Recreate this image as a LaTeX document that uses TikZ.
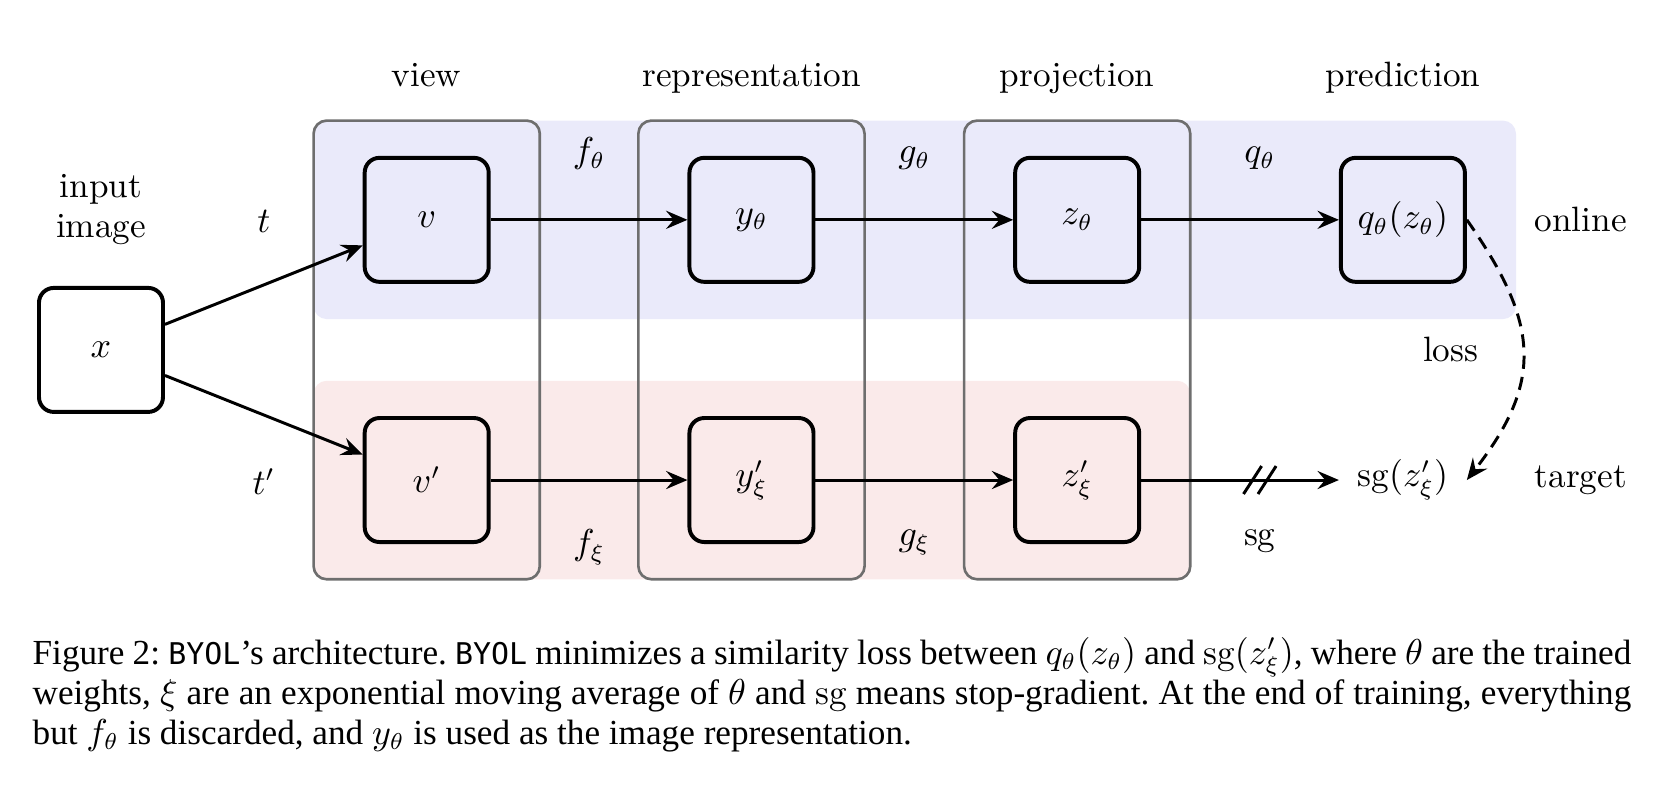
\documentclass[tikz,border=0pt]{standalone}
\usepackage{fontspec}
\usepackage{amsmath}
\usepackage{tikz}
\usetikzlibrary{calc,backgrounds,arrows.meta,fit}
\usetikzlibrary{decorations.markings,positioning}
\newfontfamily\captionrm{Liberation Serif}
\newfontfamily\captiontt[Scale=0.85]{DejaVu Sans Mono}
\definecolor{onlinebg}{RGB}{234,234,250}
\definecolor{targetbg}{RGB}{250,234,234}
\definecolor{grpgray}{RGB}{110,110,110}

\begin{document}
\begin{tikzpicture}[font=\fontsize{10.7}{12.2}\selectfont,
		blk/.style={draw,line width=1.2pt,rounded corners=4.5pt,minimum size=1.325cm,inner sep=0pt},
		grp/.style={rounded corners=4pt,inner xsep=0.525cm,inner ysep=0.377cm},
		flow/.style={-{Stealth[length=6.5pt,width=5.5pt,inset=2.3pt]},line width=0.9pt},
		colhead/.style={anchor=base},
		stopgrad/.style={postaction={decorate},decoration={markings,mark=at position 0.6 with {\draw[-,line width=0.9pt] (-4.95pt,-4.25pt)--(0.55pt,4.25pt); \draw[-,line width=0.9pt] (-0.55pt,-4.25pt)--(4.95pt,4.25pt);}}}]
		\useasboundingbox (-1.079,-4.743) rectangle (16.70,3.739);
		% boxes
		\node[blk] (x) at (0,0) {$x$};
		\node[blk] (von) at (3.48,1.39) {$v$};
		\node[blk] (yon) at (6.95,1.39) {$y_\theta$};
		\node[blk] (zon) at (10.43,1.39) {$z_\theta$};
		\node[blk] (qon) at (13.91,1.39) {$q_\theta(z_\theta)$};
		\node[blk] (vtg) at (3.48,-1.39) {$v'$};
		\node[blk] (ytg) at (6.95,-1.39) {$y'_\xi$};
		\node[blk] (ztg) at (10.43,-1.39) {$z'_\xi$};
		\node[blk,draw=none] (sgtg) at (13.91,-1.39) {$\mathrm{sg}(z'_\xi)$};
		\begin{scope}[on background layer]
			\node[grp,fill=onlinebg,fit=(von)(qon)] (online) {};
			\node[grp,fill=targetbg,fit=(vtg)(ztg)] (target) {};
			\node[grp,draw=grpgray,line width=0.8pt,fit=(von)(vtg)] (viewgrp) {};
			\node[grp,draw=grpgray,line width=0.8pt,fit=(yon)(ytg)] (reprgrp) {};
			\node[grp,draw=grpgray,line width=0.8pt,fit=(zon)(ztg)] (projgrp) {};
		\end{scope}
		% column heads
		\node[colhead] (hview) at (3.48,2.81) {view};
		\node[colhead] (hrepr) at (6.95,2.81) {representation};
		\node[colhead] (hproj) at (10.43,2.81) {projection};
		\node[colhead] (hpred) at (13.91,2.81) {prediction};
		\node[above=0.32cm of x,align=center] (input) {input\\image};
		\node (tlab) at (1.74,1.37) {$t$};
		\node (tplab) at (1.74,-1.41) {$t'$};
		\node (onlab) at (15.81,1.39) {online};
		\node (tglab) at (15.81,-1.39) {target};
		\node (losslab) at (14.42,0) {loss};
		% arrows
		\draw[flow] (x)--(von);
		\draw[flow] (x)--(vtg);
		\draw[flow] (von)--(yon) node[midway,above=0.4cm] (fon) {$f_\theta$};
		\draw[flow] (yon)--(zon) node[midway,above=0.4cm] (gon) {$g_\theta$};
		\draw[flow] (zon)--(qon) node[pos=0.6,above=0.4cm] (qlab) {$q_\theta$};
		\draw[flow] (vtg)--(ytg) node[midway,below=0.4cm] (ftg) {$f_\xi$};
		\draw[flow] (ytg)--(ztg) node[midway,below=0.4cm] (gtg) {$g_\xi$};
		\draw[flow,stopgrad] (ztg)--(sgtg) node[pos=0.6,below=0.4cm] (sglab) {$\mathrm{sg}$};
		\draw[flow,dash pattern=on 4pt off 2.5pt] (qon.east) to[out=-55,in=52,looseness=1.24] (sgtg.east);
		% caption
		\node[anchor=north west,inner sep=0pt,text width=486pt,align=justify,font=\captionrm\fontsize{10.7}{12.2}\selectfont\frenchspacing] (caption) at (-0.737,-3.06) {Figure 2: {\captiontt BYOL}’s architecture. {\captiontt BYOL} minimizes a similarity loss between $q_\theta(z_\theta)$ and $\mathrm{sg}(z'_\xi)$, where $\theta$ are the trained\linebreak weights, $\xi$ are an exponential moving average of $\theta$ and $\mathrm{sg}$ means stop-gradient. At the end of training, everything\linebreak but $f_\theta$ is discarded, and $y_\theta$ is used as the image representation.};
	\end{tikzpicture}
\end{document}
